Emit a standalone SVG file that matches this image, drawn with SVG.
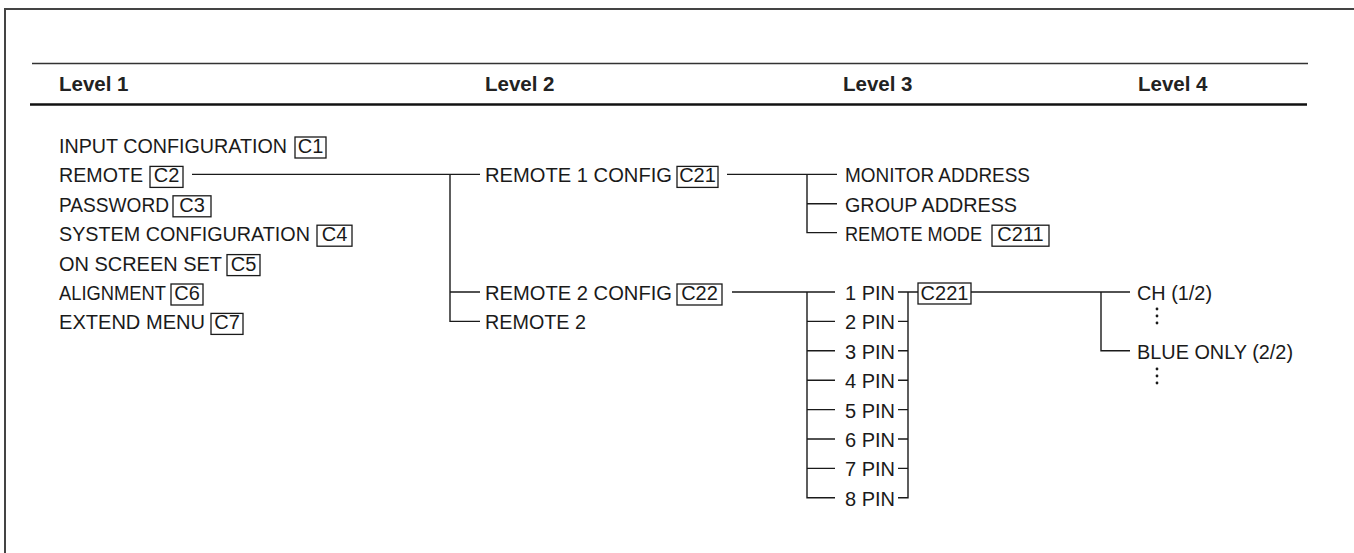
<svg xmlns="http://www.w3.org/2000/svg" width="1354" height="553" viewBox="0 0 1354 553">
<style>
text{font-family:"Liberation Sans",Arial,sans-serif;fill:#1a1a1a}
.t{font-size:20px}
.h{font-size:20.5px;font-weight:bold;fill:#222}
.bx{fill:none;stroke:#1a1a1a;stroke-width:1.3}
.ln{fill:none;stroke:#1a1a1a;stroke-width:1.4}
.bc{text-anchor:middle}
</style>
<rect width="1354" height="553" fill="#fff"/>
<g id="frame">
<path d="M5,553 V9 H1354" fill="none" stroke="#444" stroke-width="2"/>
<line x1="32" y1="63.5" x2="1308" y2="63.5" stroke="#333" stroke-width="1.4"/>
<line x1="30" y1="104.5" x2="1307" y2="104.5" stroke="#111" stroke-width="2.6"/>
</g>
<g id="headers">
<text class="h" x="59" y="91">Level 1</text>
<text class="h" x="485" y="91">Level 2</text>
<text class="h" x="843" y="91">Level 3</text>
<text class="h" x="1138" y="91">Level 4</text>
</g>
<g id="level1">
<g id="n-c1"><text class="t" x="59" y="153" textLength="228" lengthAdjust="spacingAndGlyphs">INPUT CONFIGURATION</text><rect class="bx" x="295" y="137" width="31" height="21"/><text class="t bc" x="310.5" y="153">C1</text></g>
<g id="n-c2"><text class="t" x="59" y="182.4" textLength="84" lengthAdjust="spacingAndGlyphs">REMOTE</text><rect class="bx" x="150" y="166.4" width="33" height="21"/><text class="t bc" x="166.5" y="182.4">C2</text></g>
<g id="n-c3"><text class="t" x="59" y="211.8" textLength="110" lengthAdjust="spacingAndGlyphs">PASSWORD</text><rect class="bx" x="173" y="195.8" width="38" height="21"/><text class="t bc" x="192" y="211.8">C3</text></g>
<g id="n-c4"><text class="t" x="59" y="241.2" textLength="251" lengthAdjust="spacingAndGlyphs">SYSTEM CONFIGURATION</text><rect class="bx" x="317" y="225.2" width="35" height="21"/><text class="t bc" x="334.5" y="241.2">C4</text></g>
<g id="n-c5"><text class="t" x="59" y="270.6" textLength="163" lengthAdjust="spacingAndGlyphs">ON SCREEN SET</text><rect class="bx" x="227" y="254.6" width="33" height="21"/><text class="t bc" x="243.5" y="270.6">C5</text></g>
<g id="n-c6"><text class="t" x="59" y="300" textLength="107" lengthAdjust="spacingAndGlyphs">ALIGNMENT</text><rect class="bx" x="171" y="284" width="32" height="21"/><text class="t bc" x="187" y="300">C6</text></g>
<g id="n-c7"><text class="t" x="59" y="329.4" textLength="146" lengthAdjust="spacingAndGlyphs">EXTEND MENU</text><rect class="bx" x="211" y="313.4" width="32" height="21"/><text class="t bc" x="227" y="329.4">C7</text></g>
</g>
<g id="level2">
<g id="n-c21"><text class="t" x="485" y="182.4" textLength="187" lengthAdjust="spacingAndGlyphs">REMOTE 1 CONFIG</text><rect class="bx" x="677" y="166.4" width="41" height="21"/><text class="t bc" x="697.5" y="182.4">C21</text></g>
<g id="n-c22"><text class="t" x="485" y="300" textLength="187" lengthAdjust="spacingAndGlyphs">REMOTE 2 CONFIG</text><rect class="bx" x="677" y="284" width="45" height="21"/><text class="t bc" x="699.5" y="300">C22</text></g>
<g id="n-remote2"><text class="t" x="485" y="329.4" textLength="101" lengthAdjust="spacingAndGlyphs">REMOTE 2</text></g>
</g>
<g id="level3">
<g id="n-monitor"><text class="t" x="845" y="182.4" textLength="185" lengthAdjust="spacingAndGlyphs">MONITOR ADDRESS</text></g>
<g id="n-group"><text class="t" x="845" y="211.8" textLength="172" lengthAdjust="spacingAndGlyphs">GROUP ADDRESS</text></g>
<g id="n-c211"><text class="t" x="845" y="241.2" textLength="137" lengthAdjust="spacingAndGlyphs">REMOTE MODE</text><rect class="bx" x="992" y="225.2" width="57" height="21"/><text class="t bc" x="1020.5" y="241.2">C211</text></g>
<g id="n-pin1"><text class="t" x="845" y="300">1 PIN</text></g>
<g id="n-pin2"><text class="t" x="845" y="329.4">2 PIN</text></g>
<g id="n-pin3"><text class="t" x="845" y="358.8">3 PIN</text></g>
<g id="n-pin4"><text class="t" x="845" y="388.2">4 PIN</text></g>
<g id="n-pin5"><text class="t" x="845" y="417.6">5 PIN</text></g>
<g id="n-pin6"><text class="t" x="845" y="447">6 PIN</text></g>
<g id="n-pin7"><text class="t" x="845" y="476.4">7 PIN</text></g>
<g id="n-pin8"><text class="t" x="845" y="505.8">8 PIN</text></g>
<g id="n-c221"><rect class="bx" x="918" y="283" width="53" height="21"/><text class="t bc" x="944.5" y="300">C221</text></g>
</g>
<g id="level4">
<g id="n-ch"><text class="t" x="1137" y="300" textLength="75" lengthAdjust="spacingAndGlyphs">CH (1/2)</text></g>
<g id="n-blue"><text class="t" x="1137" y="358.8" textLength="156" lengthAdjust="spacingAndGlyphs">BLUE ONLY (2/2)</text></g>
<g id="dots" fill="#1a1a1a">
<circle cx="1157" cy="309" r="1.4"/><circle cx="1157" cy="316" r="1.4"/><circle cx="1157" cy="323" r="1.4"/>
<circle cx="1157" cy="369" r="1.4"/><circle cx="1157" cy="376" r="1.4"/><circle cx="1157" cy="383" r="1.4"/>
</g>
</g>
<g id="connectors" class="ln">
<path d="M192,174.4 H480 M450,174.4 V321.4 H480 M450,292 H480"/>
<path d="M727,174.4 H837 M807,174.4 V232.6 H837 M807,203.8 H837"/>
<path d="M732,292 H835 M807,292 V497.8 H835 M807,321.4 H835 M807,350.8 H835 M807,380.2 H835 M807,409.6 H835 M807,439 H835 M807,468.4 H835"/>
<path d="M898,292 H918 M908,292 V497.8 H898 M898,321.4 H908 M898,350.8 H908 M898,380.2 H908 M898,409.6 H908 M898,439 H908 M898,468.4 H908"/>
<path d="M971,292 H1130 M1101,292 V350.8 H1130"/>
</g>
</svg>
